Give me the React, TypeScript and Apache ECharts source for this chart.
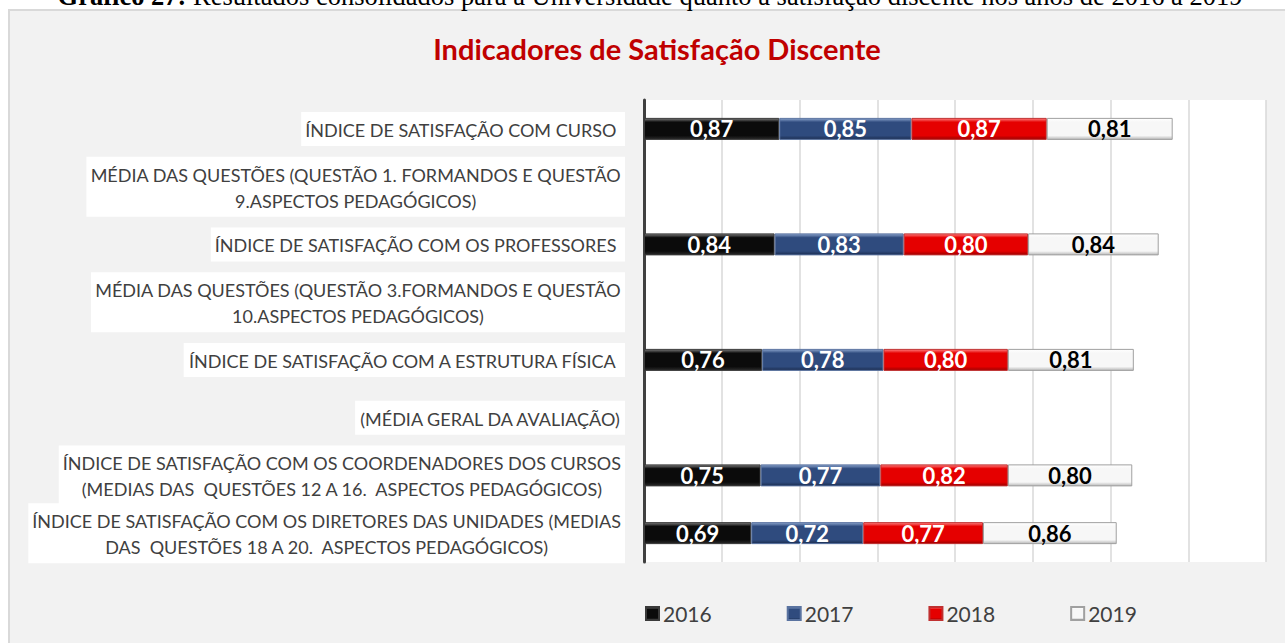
import React, { useEffect, useRef } from "react";
import * as echarts from "echarts";

const caption = "Resultados consolidados para a Universidade quanto a satisfação discente nos anos de 2016 a 2019";
const title = "Indicadores de Satisfação Discente";

const categories = [
  "ÍNDICE DE SATISFAÇÃO COM CURSO ",
  "MÉDIA DAS QUESTÕES (QUESTÃO 1. FORMANDOS E QUESTÃO\n9.ASPECTOS PEDAGÓGICOS)",
  "ÍNDICE DE SATISFAÇÃO COM OS PROFESSORES ",
  "MÉDIA DAS QUESTÕES (QUESTÃO 3.FORMANDOS E QUESTÃO\n10.ASPECTOS PEDAGÓGICOS)",
  "ÍNDICE DE SATISFAÇÃO COM A ESTRUTURA FÍSICA ",
  "(MÉDIA GERAL DA AVALIAÇÃO)",
  "ÍNDICE DE SATISFAÇÃO COM OS COORDENADORES DOS CURSOS\n(MEDIAS DAS  QUESTÕES 12 A 16.  ASPECTOS PEDAGÓGICOS)",
  "ÍNDICE DE SATISFAÇÃO COM OS DIRETORES DAS UNIDADES (MEDIAS\nDAS  QUESTÕES 18 A 20.  ASPECTOS PEDAGÓGICOS)",
];

const years = ["2016", "2017", "2018", "2019"];

const values2016 = [0.87, null, 0.84, null, 0.76, null, 0.75, 0.69];
const values2017 = [0.85, null, 0.83, null, 0.78, null, 0.77, 0.72];
const values2018 = [0.87, null, 0.8, null, 0.8, null, 0.82, 0.77];
const values2019 = [0.81, null, 0.84, null, 0.81, null, 0.8, 0.86];

const xTicks = { min: 0, max: 4, interval: 0.5 };

const grad = (top: string, mid: string, bottom: string) =>
  new echarts.graphic.LinearGradient(0, 0, 0, 1, [
    { offset: 0, color: top },
    { offset: 0.18, color: mid },
    { offset: 0.82, color: mid },
    { offset: 1, color: bottom },
  ]);

const styles = [
  { fill: grad("#7a7a7a", "#0b0b0b", "#2a2a2a"), border: "#3a3a3a", label: "#ffffff" },
  { fill: grad("#8aa3cc", "#2f4b7e", "#1b2d50"), border: "#5a73a0", label: "#ffffff" },
  { fill: grad("#ff8080", "#e50000", "#9c0000"), border: "#c03030", label: "#ffffff" },
  { fill: grad("#ffffff", "#f7f7f7", "#b8b8b8"), border: "#a0a0a0", label: "#000000" },
];

const seriesValues = [values2016, values2017, values2018, values2019];

export default function App() {
  const ref = useRef<HTMLDivElement>(null);
  useEffect(() => {
    if (!ref.current) return;
    const chart = echarts.init(ref.current, undefined, { renderer: "svg" });
    const font = "Lato, 'Open Sans', sans-serif";
    chart.setOption({
      animation: false,
      backgroundColor: "#ffffff",
      graphic: [
        {
          type: "rect",
          z: -10,
          shape: { x: 9, y: 10, width: 1290, height: 650 },
          style: { fill: "#F2F2F2", stroke: "#D9D9D9", lineWidth: 2 },
        },
        {
          type: "text",
          x: 650,
          y: -4,
          style: {
            text: "{b|Gráfico 27:} " + caption,
            align: "center",
            verticalAlign: "middle",
            font: "26.5px 'Liberation Serif', 'Times New Roman', serif",
            fill: "#000",
            rich: {
              b: { fontWeight: "bold", fontFamily: "'Liberation Serif', serif", fontSize: 26.5, fill: "#000" },
            },
          },
        },
      ],
      title: {
        text: title,
        left: 652,
        textAlign: "center",
        top: 29,
        textStyle: { fontFamily: font, fontSize: 29, fontWeight: "bold", color: "#C00000" },
      },
      legend: {
        data: years,
        left: 645,
        top: 603,
        padding: 0,
        itemWidth: 13,
        itemHeight: 13,
        itemGap: 75,
        icon: "rect",
        textStyle: { fontFamily: font, fontSize: 21, color: "#404040", padding: [0, 0, 0, -1] },
      },
      grid: {
        left: 644,
        right: 19,
        top: 100,
        bottom: 81,
        show: true,
        backgroundColor: "#ffffff",
        borderWidth: 0,
      },
      xAxis: {
        type: "value",
        min: xTicks.min,
        max: xTicks.max,
        interval: xTicks.interval,
        axisLabel: { show: false },
        axisLine: { show: false },
        axisTick: { show: false },
        splitLine: { show: true, lineStyle: { color: "#D9D9D9", width: 1.5 } },
      },
      yAxis: {
        type: "category",
        inverse: true,
        data: categories,
        axisTick: { show: false },
        axisLine: { show: true, lineStyle: { color: "#404040", width: 3 } },
        axisLabel: {
          interval: 0,
          hideOverlap: false,
          margin: 19,
          color: "#404040",
          fontFamily: font,
          fontSize: 18,
          lineHeight: 26,
          backgroundColor: "#ffffff",
          padding: [5, 4, 3, 4],
          formatter: (v: string) => v.split("\n").map((l) => `{c|${l}}`).join("\n"),
          rich: {
            c: { align: "center", fontFamily: font, fontSize: 18, lineHeight: 26, color: "#404040" },
          },
        },
      },
      series: years.map((y, i) => ({
        name: y,
        type: "bar",
        stack: "total",
        barWidth: 22,
        data: seriesValues[i],
        itemStyle: { color: styles[i].fill, borderColor: styles[i].border, borderWidth: 1 },
        label: {
          show: true,
          position: "inside",
          color: styles[i].label,
          fontFamily: font,
          fontWeight: "bold",
          fontSize: 22,
          formatter: (p: any) => (p.value == null ? "" : Number(p.value).toFixed(2).replace(".", ",")),
        },
      })),
    });
    return () => chart.dispose();
  }, []);
  return (
    <div
      ref={ref}
      style={{ position: "fixed", left: 0, top: 0, width: 1285, height: 643 }}
    />
  );
}
